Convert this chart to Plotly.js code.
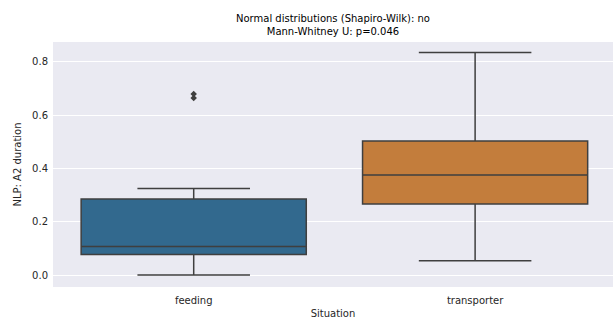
<!DOCTYPE html>
<html>
<head>
<meta charset="utf-8">
<script src="https://cdn.plot.ly/plotly-3.0.1.min.js"></script>
<style>html,body{margin:0;padding:0;background:#fff}#chart{width:613px;height:319px}</style>
</head>
<body>
<div id="chart"></div>
<script>
const categories = ["feeding", "transporter"];
const lowerWhisker = [0.0, 0.054];
const q1 = [0.077, 0.267];
const median = [0.107, 0.376];
const q3 = [0.285, 0.503];
const upperWhisker = [0.325, 0.836];
const outlierCategory = ["feeding", "feeding"];
const outlierValues = [0.665, 0.68];
const boxColors = ["#32698e", "#c37d3c"];
const titleLines = ["Normal distributions (Shapiro-Wilk): no", "Mann-Whitney U: p=0.046"];

const font = {family: "DejaVu Sans, sans-serif", size: 10, color: "#262626"};
const traces = categories.map((c, i) => ({
  type: "box",
  x: [c],
  q1: [q1[i]], median: [median[i]], q3: [q3[i]],
  lowerfence: [lowerWhisker[i]], upperfence: [upperWhisker[i]],
  fillcolor: boxColors[i],
  line: {color: "#3f3f3f", width: 1.5},
  width: 0.8,
  whiskerwidth: 0.5,
  boxpoints: false,
  hoverinfo: "skip",
  showlegend: false
}));
traces.push({
  type: "scatter", mode: "markers",
  x: outlierCategory, y: outlierValues,
  marker: {symbol: "diamond", size: 5, color: "#3f3f3f"},
  showlegend: false, hoverinfo: "skip"
});

const layout = {
  width: 613, height: 319,
  margin: {l: 53, r: 0, t: 42, b: 32},
  paper_bgcolor: "#ffffff",
  plot_bgcolor: "#eaeaf2",
  font: font,
  annotations: [{
    text: titleLines.join("<br>"), showarrow: false,
    xref: "paper", x: 0.5, xanchor: "center",
    yref: "paper", y: 1, yanchor: "bottom", yshift: 3,
    font: {family: font.family, size: 10, color: "#000"}
  }],
  xaxis: {
    type: "category", range: [-0.5, 1.49],
    showgrid: false, zeroline: false, showline: false, ticks: "",
    ticklabelstandoff: 6,
    tickfont: {size: 10, color: "#262626"},
    title: {text: "Situation", font: {size: 10, color: "#262626"}, standoff: 10}
  },
  yaxis: {
    range: [-0.045, 0.875],
    tickvals: [0, 0.2, 0.4, 0.6, 0.8], tickformat: ".1f",
    gridcolor: "#ffffff", gridwidth: 1,
    zeroline: false, showline: false, ticks: "",
    ticklabelstandoff: 4,
    tickfont: {size: 10, color: "#262626"},
    title: {text: "NLP: A2 duration", font: {size: 10, color: "#262626"}, standoff: 8}
  }
};
Plotly.newPlot("chart", traces, layout, {displayModeBar: false, staticPlot: true});
</script>
</body>
</html>
